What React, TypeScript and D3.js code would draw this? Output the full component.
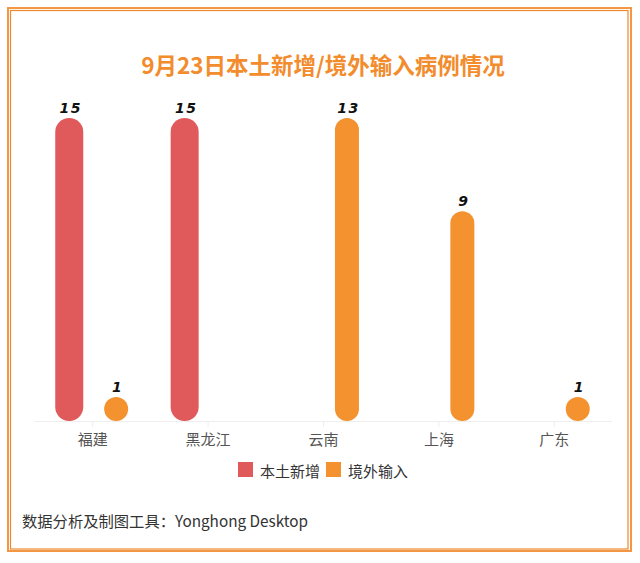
import React from "react";
import * as d3 from "d3";

const categories = ["福建", "黑龙江", "云南", "上海", "广东"];
const seriesNames = ["本土新增", "境外输入"];
const localValues: (number | null)[] = [15, 15, null, null, null];
const importedValues: (number | null)[] = [1, null, 13, 9, 1];
const seriesColors = ["#E0595B", "#F3922F"];
const title = "9月23日本土新增/境外输入病例情况";
const footer = "数据分析及制图工具：Yonghong Desktop";

const W = 640;
const H = 563;
const FONT = "'Noto Sans CJK SC', 'Noto Sans', sans-serif";

export default function App() {
  const x = d3.scaleBand<string>().domain(categories).range([35, 612]).padding(0);
  const sub = d3
    .scalePoint<string>()
    .domain(seriesNames)
    .range([0, x.bandwidth()])
    .padding(0.73);
  const yLocal = d3.scaleLinear().domain([0, d3.max(localValues, (d) => d ?? 0) as number]).range([421, 118]);
  const yImp = d3.scaleLinear().domain([0, d3.max(importedValues, (d) => d ?? 0) as number]).range([421, 118]);
  const scales = [yLocal, yImp];
  const widths = [28, 24];
  const series = [localValues, importedValues];

  const bars: React.ReactNode[] = [];
  series.forEach((vals, si) => {
    vals.forEach((v, i) => {
      if (v == null) return;
      const cx = (x(categories[i]) as number) + (sub(seriesNames[si]) as number);
      const w = widths[si];
      const y0 = scales[si](0);
      const y1 = scales[si](v);
      const h = Math.max(y0 - y1, w);
      const top = y0 - h;
      bars.push(
        <g key={`${si}-${i}`}>
          <rect x={cx - w / 2} y={top} width={w} height={h} rx={w / 2} ry={w / 2} fill={seriesColors[si]} />
          <text
            x={cx + 1.5}
            y={top - 5.5}
            textAnchor="middle"
            fontFamily="'DejaVu Sans', sans-serif"
            fontWeight="bold"
            fontStyle="italic"
            fontSize={14}
            letterSpacing={1.5}
            fill="#111"
          >
            {v}
          </text>
        </g>
      );
    });
  });

  return (
    <svg
      width={W}
      height={H}
      style={{ position: "absolute", left: 0, top: 0, background: "#fff" }}
    >
      <rect x={8} y={8} width={623} height={543} fill="none" stroke="#F5A45C" strokeWidth={2} />
      <rect x={8} y={8} width={623} height={543} fill="none" stroke="#F0892A" strokeWidth={1} />
      <rect x={10.5} y={10.5} width={617.5} height={538.5} fill="none" stroke="#F0892A" strokeWidth={1.2} />

      <text
        x={323}
        y={64}
        textAnchor="middle"
        dominantBaseline="central"
        fontFamily={FONT}
        fontWeight="bold"
        fontSize={22.5}
        fill="#F28C2C"
      >
        {title}
      </text>

      <line x1={35} x2={612} y1={421.5} y2={421.5} stroke="#eeeeee" strokeWidth={1} />
      {categories.map((c) => {
        const cx = (x(c) as number) + x.bandwidth() / 2;
        return (
          <g key={c}>
            <line x1={cx} x2={cx} y1={421.5} y2={427} stroke="#eeeeee" strokeWidth={1} />
            <text
              x={cx}
              y={438}
              textAnchor="middle"
              dominantBaseline="central"
              fontFamily={FONT}
              fontSize={15}
              fill="#555"
            >
              {c}
            </text>
          </g>
        );
      })}

      {bars}

      {seriesNames.map((s, i) => {
        const lx = [238, 326][i];
        return (
          <g key={s}>
            <rect x={lx} y={462} width={15} height={15} fill={seriesColors[i]} />
            <text
              x={lx + 22}
              y={470}
              dominantBaseline="central"
              fontFamily={FONT}
              fontSize={15}
              fill="#333"
            >
              {s}
            </text>
          </g>
        );
      })}

      <text x={22} y={520} dominantBaseline="central" fontFamily={FONT} fontSize={15.3} fill="#333">
        {footer}
      </text>
    </svg>
  );
}
